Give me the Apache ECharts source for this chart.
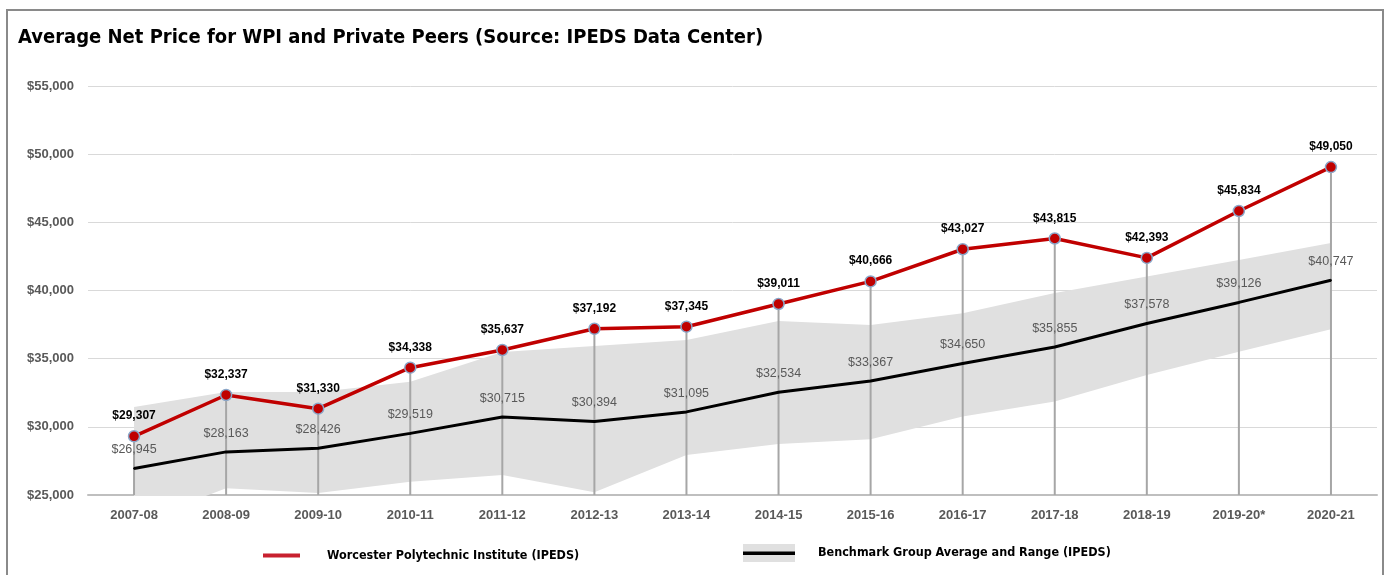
<!DOCTYPE html>
<html>
<head>
<meta charset="utf-8">
<script src="https://cdn.jsdelivr.net/npm/echarts@6/dist/echarts.min.js"></script>
<style>
  html, body { margin: 0; padding: 0; background: #fff; }
  #chart { width: 1387px; height: 575px; }
  #frame {
    position: absolute; left: 6px; top: 9px; width: 1374px; height: 580px;
    border: 2px solid #8a8a8a; pointer-events: none;
  }
</style>
</head>
<body>
<div id="chart"></div>
<div id="frame"></div>
<script>
// academic years
const years = ['2007-08', '2008-09', '2009-10', '2010-11', '2011-12', '2012-13', '2013-14',
  '2014-15', '2015-16', '2016-17', '2017-18', '2018-19', '2019-20*', '2020-21']
// WPI average net price
const wpi = [29307, 32337, 31330, 34338, 35637, 37192, 37345, 39011, 40666, 43027, 43815, 42393, 45834, 49050]
// benchmark group average
const benchAvg = [26945, 28163, 28426, 29519, 30715, 30394, 31095, 32534, 33367, 34650, 35855, 37578, 39126, 40747]
// benchmark range
const benchLow = [22900, 25500, 25150, 25980, 26470, 25200, 27930, 28740, 29090, 30750, 31850, 33800, 35510, 37160]
const benchHigh = [31450, 32550, 32550, 33300, 35490, 35930, 36370, 37770, 37470, 38330, 39820, 41020, 42240, 43490]

const yTicks = { min: 25000, max: 55000, step: 5000 }

const money = v => '$' + Number(v).toLocaleString('en-US')
const narrow = '"Liberation Sans Narrow", "DejaVu Sans Condensed", "Liberation Sans", sans-serif'

const benchIcon = 'image://data:image/svg+xml;utf8,' + encodeURIComponent(
  '<svg xmlns="http://www.w3.org/2000/svg" width="52" height="18">' +
  '<rect width="52" height="18" fill="#e0e0e0"/><rect y="7.5" width="52" height="3.5" fill="#000"/></svg>')

const myChart = echarts.init(document.getElementById('chart'))

const option = {
  animation: false,
  title: {
    text: 'Average Net Price for WPI and Private Peers (Source: IPEDS Data Center)',
    left: 13,
    top: 23,
    textStyle: { fontFamily: narrow, fontSize: 20, fontWeight: 'bold', color: '#000' },
  },
  legend: [
    {
      data: [{
        name: 'Worcester Polytechnic Institute (IPEDS)',
        icon: 'rect',
        itemStyle: { color: '#c8202f', borderWidth: 0 },
      }],
      left: 258,
      top: 544,
      itemWidth: 37,
      itemHeight: 4,
      textStyle: { fontFamily: narrow, fontSize: 12.5, fontWeight: 'bold', color: '#000', padding: [8, 0, 0, 22] },
    },
    {
      data: [{ name: 'Benchmark Group Average and Range (IPEDS)', icon: benchIcon }],
      left: 738,
      top: 539,
      itemWidth: 52,
      itemHeight: 18,
      textStyle: { fontFamily: narrow, fontSize: 12.5, fontWeight: 'bold', color: '#000', padding: [6, 0, 0, 18] },
    },
  ],
  grid: { left: 88, right: 10, top: 86, bottom: 80 },
  xAxis: {
    type: 'category',
    data: years,
    boundaryGap: true,
    axisTick: { show: false },
    axisLine: { lineStyle: { color: '#bfbfbf', width: 2 } },
    axisLabel: { color: '#595959', fontWeight: 'bold', fontSize: 13, fontFamily: 'Liberation Sans', margin: 14 },
  },
  yAxis: {
    type: 'value',
    min: yTicks.min,
    max: yTicks.max,
    interval: yTicks.step,
    axisLine: { show: false },
    axisTick: { show: false },
    splitLine: { lineStyle: { color: '#d9d9d9', width: 1 } },
    axisLabel: { color: '#595959', fontWeight: 'bold', fontSize: 13, fontFamily: 'Liberation Sans', margin: 14, formatter: money },
  },
  series: [
    {
      name: 'bandLow',
      type: 'line',
      stack: 'band',
      data: benchLow,
      symbol: 'none',
      lineStyle: { opacity: 0 },
      silent: true,
      z: 1,
    },
    {
      name: 'bandRange',
      type: 'line',
      stack: 'band',
      data: benchHigh.map((v, i) => v - benchLow[i]),
      symbol: 'none',
      lineStyle: { opacity: 0 },
      areaStyle: { color: '#e0e0e0', opacity: 1 },
      silent: true,
      z: 1,
    },
    {
      name: 'drop',
      type: 'bar',
      data: wpi,
      barWidth: 2,
      itemStyle: { color: '#a6a6a6' },
      silent: true,
      z: 2,
    },
    {
      name: 'Benchmark Group Average and Range (IPEDS)',
      type: 'line',
      data: benchAvg,
      symbol: 'circle',
      symbolSize: 2,
      itemStyle: { color: '#000' },
      lineStyle: { color: '#000', width: 3 },
      label: {
        show: true,
        position: 'top',
        distance: 11,
        color: '#595959',
        fontSize: 12.5,
        fontFamily: 'Liberation Sans',
        formatter: p => money(p.value),
      },
      z: 3,
    },
    {
      name: 'Worcester Polytechnic Institute (IPEDS)',
      type: 'line',
      data: wpi,
      symbol: 'circle',
      symbolSize: 11,
      itemStyle: { color: '#c00000', borderColor: '#8aa6c8', borderWidth: 1.5 },
      lineStyle: { color: '#c00000', width: 3.5 },
      label: {
        show: true,
        position: 'top',
        distance: 8,
        color: '#000',
        fontWeight: 'bold',
        fontSize: 12,
        fontFamily: 'Liberation Sans',
        formatter: p => money(p.value),
      },
      z: 4,
    },
  ],
}

option && myChart.setOption(option)
</script>
</body>
</html>
